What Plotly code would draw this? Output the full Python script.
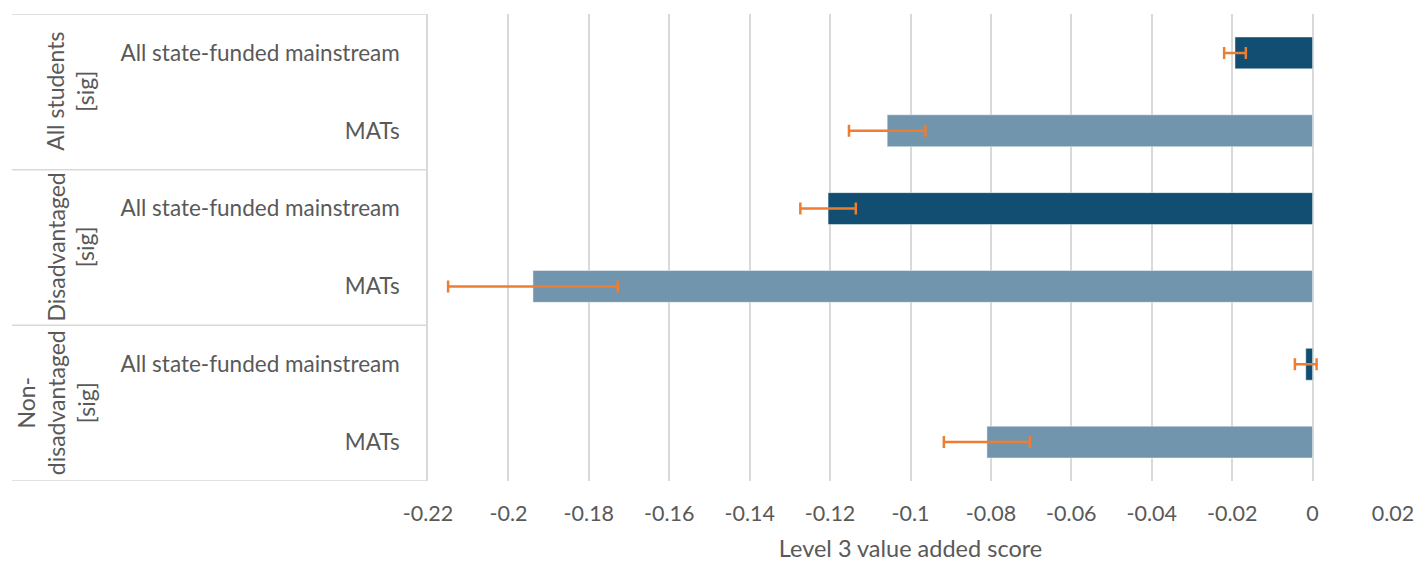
import plotly.graph_objects as go

# ---- data ----
groups = ["All students<br>[sig]", "Disadvantaged<br>[sig]", "Non-<br>disadvantaged<br>[sig]"]
categories = ["All state-funded mainstream", "MATs",
              "All state-funded mainstream", "MATs",
              "All state-funded mainstream", "MATs"]
values = [-0.0193, -0.1058, -0.1205, -0.1939, -0.0017, -0.0810]
errors = [0.0027, 0.0095, 0.0069, 0.0211, 0.0027, 0.0107]
x_ticks = [-0.22, -0.2, -0.18, -0.16, -0.14, -0.12, -0.1, -0.08, -0.06, -0.04, -0.02, 0, 0.02]
x_tick_labels = ["-0.22", "-0.2", "-0.18", "-0.16", "-0.14", "-0.12", "-0.1",
                 "-0.08", "-0.06", "-0.04", "-0.02", "0", "0.02"]
x_title = "Level 3 value added score"

# ---- styling ----
DARK = "#114E72"
LIGHT = "#7295AE"
ORANGE = "#ED7D31"
TEXT = "#595959"
GRID = "#D9D9D9"
FONT = "Lato"

W, H = 1416, 562
ML, MR, MT, MB = 428, 23, 14, 81
plot_w = W - ML - MR

positions = list(range(len(categories)))
colors = [DARK if c.startswith("All state") else LIGHT for c in categories]

fig = go.Figure()
fig.add_trace(go.Bar(
    x=values, y=positions, orientation="h",
    width=0.41,
    marker=dict(color=colors, line=dict(color="rgba(255,255,255,0.45)", width=1)),
    error_x=dict(type="data", array=errors, color=ORANGE, thickness=2.5, width=6),
    showlegend=False,
))

# group separator lines in the label area
n_per_group = len(categories) // len(groups)
for b in range(len(groups) + 1):
    yv = b * n_per_group - 0.5
    fig.add_shape(type="line", xref="paper", yref="y",
                  x0=(12 - ML) / plot_w, x1=0, y0=yv, y1=yv,
                  line=dict(color=GRID, width=1.5))

# group labels (rotated)
group_px = [70, 70, 56]
for gi, g in enumerate(groups):
    yc = gi * n_per_group + (n_per_group - 1) / 2
    fig.add_annotation(text=g, xref="paper", yref="y",
                       x=(group_px[gi] - ML) / plot_w, y=yc,
                       xanchor="center", yanchor="middle",
                       textangle=-90, showarrow=False,
                       font=dict(family=FONT, size=23, color=TEXT))

fig.update_layout(
    width=W, height=H,
    margin=dict(l=ML, r=MR, t=MT, b=MB, pad=0),
    paper_bgcolor="white", plot_bgcolor="white",
    font=dict(family=FONT, size=22, color=TEXT),
    bargap=0.59,
)
fig.update_xaxes(
    range=[-0.22, 0.02], tickvals=x_ticks, ticktext=x_tick_labels,
    showgrid=True, gridcolor=GRID, gridwidth=1.5, zeroline=False,
    showline=False, ticks="", ticklabelstandoff=17, automargin=False,
    tickfont=dict(family=FONT, size=21.5, color=TEXT),
    title=dict(text=x_title, font=dict(family=FONT, size=23.5, color=TEXT), standoff=18),
)
fig.update_yaxes(
    range=[len(categories) - 0.5, -0.5], tickvals=positions, ticktext=categories,
    showgrid=False, zeroline=False, showline=True, linecolor=GRID, linewidth=1.5,
    ticks="", ticklabelstandoff=22, automargin=False,
    tickfont=dict(family=FONT, size=22.5, color=TEXT),
)

fig.write_html("out.html")
